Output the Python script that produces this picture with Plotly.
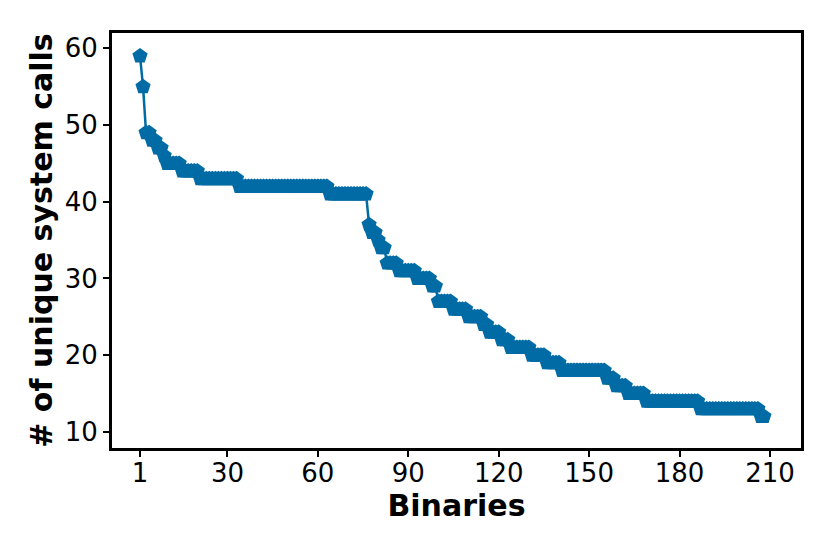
import numpy as np
import plotly.graph_objects as go

# step levels (sorted, descending) and how many binaries sit on each
levels = [59, 55, 49, 48, 47, 46, 45, 44, 43, 42, 41, 37, 36, 35, 34, 32, 31, 30, 29,
          27, 26, 25, 24, 23, 22, 21, 20, 19, 18, 17, 16, 15, 14, 13, 12]
counts = [1, 1, 2, 2, 2, 1, 5, 6, 13, 30, 13, 1, 2, 1, 2, 4, 6, 5, 2,
          5, 5, 5, 2, 4, 3, 7, 5, 5, 15, 3, 4, 6, 18, 20, 2]
x_ticks = [1, 30, 60, 90, 120, 150, 180, 210]
y_ticks = [10, 20, 30, 40, 50, 60]

syscalls = np.repeat(levels, counts)
binaries = np.arange(1, len(syscalls) + 1)

BLUE = "#006BA4"
FONT = "DejaVu Sans"

fig = go.Figure(go.Scatter(
    x=binaries, y=syscalls, mode="lines+markers",
    line=dict(color=BLUE, width=2.5),
    marker=dict(symbol="pentagon", size=16, color=BLUE),
))

axis_style = dict(showline=True, linewidth=3, linecolor="black", mirror=True,
                  ticks="outside", ticklen=6, tickwidth=1.5, tickcolor="black",
                  showgrid=False, zeroline=False,
                  tickfont=dict(family=FONT, size=26, color="black"))

# page body has an 8px margin, so the plot box is nudged to land where the reference has it
fig.update_layout(
    width=830, height=554,
    margin=dict(l=104, r=37, t=25, b=114),
    plot_bgcolor="white", paper_bgcolor="white",
    showlegend=False,
    font=dict(family=FONT, color="black"),
    xaxis=dict(range=[-8.3, 220.3], tickvals=x_ticks, ticklabelstandoff=-6,
               title=dict(text="<b>Binaries</b>", font=dict(family=FONT, size=30), standoff=4),
               **axis_style),
    yaxis=dict(range=[7.9, 62.0], tickvals=y_ticks,
               title=dict(text="<b># of unique system calls</b>", font=dict(family=FONT, size=30), standoff=4),
               **axis_style),
)

fig.write_html("out.html")
